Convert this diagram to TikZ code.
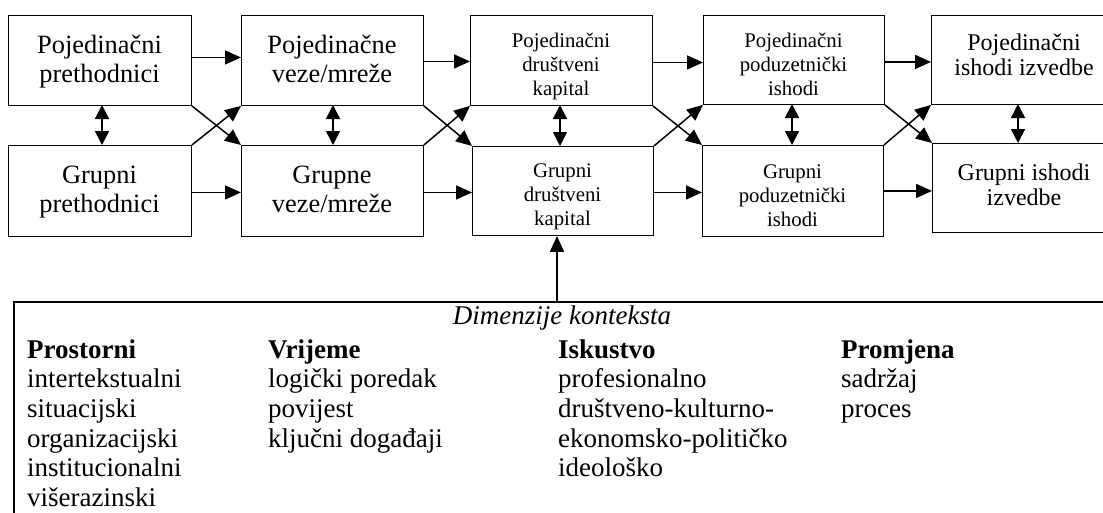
\documentclass[tikz,border=0pt]{standalone}
\usepackage{fontspec}
\setmainfont{Liberation Serif}
\usetikzlibrary{arrows.meta,calc}
\begin{document}
\begin{tikzpicture}[x=1pt,y=-1pt,
  box/.style={draw,line width=0.9pt,inner sep=0pt,anchor=north west},
  bigtxt/.style={inner sep=0pt,anchor=north,align=center,font=\fontsize{26.4}{29}\selectfont},
  midtxt/.style={inner sep=0pt,anchor=north,align=center,font=\fontsize{24}{25.5}\selectfont},
  smalltxt/.style={inner sep=0pt,anchor=north,align=center,font=\fontsize{20.8}{24}\selectfont},
  ctxtxt/.style={inner sep=0pt,anchor=north west,align=left,font=\fontsize{27}{29.7}\selectfont},
  arr/.style={line width=1.5pt,-{Triangle[length=16pt,width=14pt]}},
  darr/.style={line width=1.5pt,{Triangle[length=14pt,width=14pt]}-{Triangle[length=14pt,width=14pt]}},
]
\useasboundingbox (0,0) rectangle (1103,512);
\clip (0,0) rectangle (1103,512);
\fill[white] (0,0) rectangle (1103,512);

% boxes
\node[box,minimum width=183pt,minimum height=90pt] (b1) at (8,15) {};
\node[box,minimum width=183pt,minimum height=91pt] (b2) at (8,145) {};
\node[box,minimum width=182pt,minimum height=90pt] (b3) at (241,15) {};
\node[box,minimum width=182pt,minimum height=91pt] (b4) at (241,145) {};
\node[box,minimum width=182pt,minimum height=90pt] (b5) at (470,15) {};
\node[box,minimum width=181pt,minimum height=89pt] (b6) at (472,146) {};
\node[box,minimum width=181pt,minimum height=89pt] (b7) at (703,15) {};
\node[box,minimum width=181pt,minimum height=91pt] (b8) at (702,145) {};
\node[box,minimum width=250pt,minimum height=89pt] (b9) at (931,15) {};
\node[box,minimum width=250pt,minimum height=89pt] (b10) at (932,143) {};

% texts
\node[bigtxt] (t1) at (99.5,33) {\strut Pojedinačni\\prethodnici};
\node[bigtxt] (t2) at (99.5,162.5) {\strut Grupni\\prethodnici};
\node[bigtxt] (t3) at (332,33) {\strut Pojedinačne\\veze/mreže};
\node[bigtxt] (t4) at (332,162.5) {\strut Grupne\\veze/mreže};
\begin{scope}
\clip (b5.north west) rectangle ([yshift=-9pt]b5.south east);
\node[smalltxt] (t5) at (561,30.2) {\strut Pojedinačni\\društveni\\kapital};
\end{scope}
\begin{scope}
\clip (b6.north west) rectangle ([yshift=-8pt]b6.south east);
\node[smalltxt] (t6) at (562.5,160.2) {\strut Grupni\\društveni\\kapital};
\end{scope}
\begin{scope}
\clip (b7.north west) rectangle ([yshift=-9pt]b7.south east);
\node[smalltxt] (t7) at (793.5,30.2) {\strut Pojedinačni\\poduzetnički\\ishodi};
\end{scope}
\begin{scope}
\clip (b8.north west) rectangle ([yshift=-9pt]b8.south east);
\node[smalltxt] (t8) at (792.5,161.2) {\strut Grupni\\poduzetnički\\ishodi};
\end{scope}
\node[midtxt] (t9) at (1024,32.2) {\strut Pojedinačni\\ishodi izvedbe};
\node[midtxt] (t10) at (1024,162.2) {\strut Grupni ishodi\\izvedbe};

% horizontal arrows
\draw[arr] ([yshift=3pt]b1.east) -- ([yshift=3pt]b1.east -| b3.west);
\draw[arr] ([yshift=-1.5pt]b2.east) -- ([yshift=-1.5pt]b2.east -| b4.west);
\draw[arr] ([yshift=-1pt]b3.east) -- ([yshift=-1pt]b3.east -| b5.west);
\draw[arr] ([yshift=-1.5pt]b4.east) -- ([yshift=-1.5pt]b4.east -| b6.west);
\draw[arr] ([yshift=-2pt]b5.east) -- ([yshift=-2pt]b5.east -| b7.west);
\draw[arr] ([yshift=-1.5pt]b6.east) -- ([yshift=-1.5pt]b6.east -| b8.west);
\draw[arr] ([yshift=-2pt]b7.east) -- ([yshift=-2pt]b7.east -| b9.west);
\draw[arr] (b8.east) -- (b8.east -| b10.west);

% cross arrows
\draw[arr] (b1.south east) -- (b4.north west);
\draw[arr] (b2.north east) -- (b3.south west);
\draw[arr] (b3.south east) -- (b6.north west);
\draw[arr] (b4.north east) -- (b5.south west);
\draw[arr] (b5.south east) -- (b8.north west);
\draw[arr] (b6.north east) -- (b7.south west);
\draw[arr] (b7.south east) -- (b10.north west);
\draw[arr] (b8.north east) -- (b9.south west);

% vertical double arrows
\coordinate (v1) at (102,105);
\coordinate (v2) at (333,105);
\coordinate (v3) at (560,105);
\coordinate (v4) at (792,104);
\coordinate (v5) at (1018,104);
\draw[darr] (v1) -- (v1 |- b2.north);
\draw[darr] (v2) -- (v2 |- b4.north);
\draw[darr] (v3) -- (v3 |- b6.north);
\draw[darr] (v4) -- (v4 |- b8.north);
\draw[darr] (v5) -- (v5 |- b10.north);

% context box
\node[draw,line width=2pt,inner sep=0pt,anchor=north west,minimum width=1300pt,minimum height=300pt] (ctx) at (13,301) {};
\coordinate (ctxtop) at (557,301);
\draw[arr] (ctxtop) -- (ctxtop |- b6.south);

\node[inner sep=0pt,anchor=base,font=\fontsize{27}{29.7}\selectfont\itshape] (title) at (562,324) {Dimenzije konteksta};
\node[ctxtxt] (c1) at (27,337.2) {\strut\textbf{Prostorni}\\intertekstualni\\situacijski\\organizacijski\\institucionalni\\višerazinski};
\node[ctxtxt] (c2) at (268,337.2) {\strut\textbf{Vrijeme}\\logički poredak\\povijest\\ključni događaji};
\node[ctxtxt] (c3) at (558,337.2) {\strut\textbf{Iskustvo}\\profesionalno\\društveno-kulturno-\\ekonomsko-političko\\ideološko};
\node[ctxtxt] (c4) at (841,337.2) {\strut\textbf{Promjena}\\sadržaj\\proces};
\end{tikzpicture}
\end{document}
